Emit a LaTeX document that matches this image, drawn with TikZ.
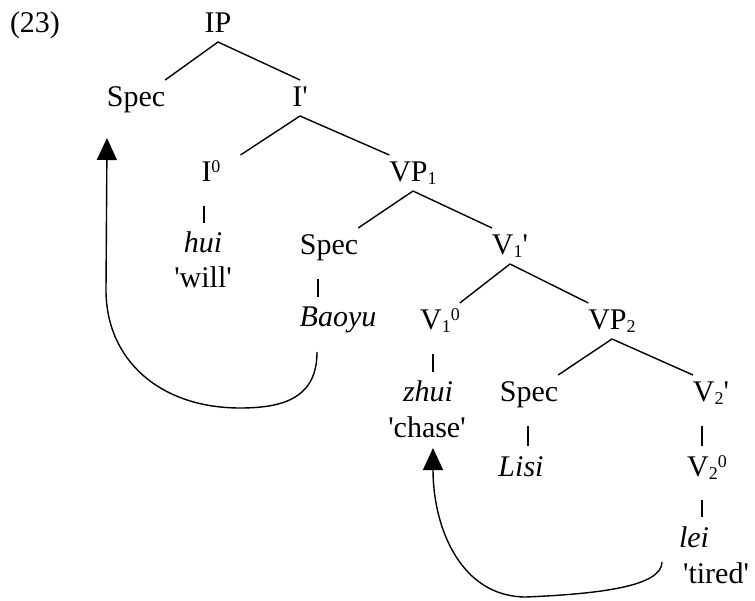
\documentclass[tikz,border=0pt]{standalone}
\usepackage{fontspec}
\setmainfont{Liberation Serif}
\usetikzlibrary{arrows.meta}
\newcommand{\sq}{\textquotesingle}
\newcommand{\dn}[1]{\raisebox{-3pt}{\fontsize{18}{20}\selectfont #1}}
\newcommand{\up}[1]{\raisebox{9pt}{\fontsize{18}{20}\selectfont #1}}

\tikzset{
  lbl/.style={anchor=base, inner sep=0pt, outer xsep=0pt, outer ysep=9pt,
    text height=18pt, text depth=0pt, font=\fontsize{30}{34}\selectfont},
  branch/.style={line width=1.4pt},
  tick/.style={line width=1.4pt, shorten <=15pt, shorten >=3pt},
  move/.style={line width=1.4pt, -{Triangle[length=22pt,width=20pt]}}
}

\begin{document}
\begin{tikzpicture}[x=1pt, y=-1pt]
\useasboundingbox (0,0) rectangle (755,601);

% labels
\node[lbl] (ex) at (35,33) {(23)};
\node[lbl] (IP) at (218,33) {IP};
\node[lbl] (spec1) at (136,107) {Spec};
\node[lbl] (ibar) at (300,107) {I\sq};
\node[lbl] (izero) at (211,182) {I\up{0}};
\node[lbl] (vp1) at (413,182) {VP\dn{1}};
\node[lbl] (hui) at (203,253) {\textit{hui}};
\node[lbl] (will) at (203,288) {\sq will\sq};
\node[lbl] (spec2) at (329,255) {Spec};
\node[lbl] (v1bar) at (510,255) {V\dn{1}\sq};
\node[lbl] (baoyu) at (338,327) {\textit{Baoyu}};
\node[lbl] (v1zero) at (440,330) {V\dn{1}\up{0}};
\node[lbl] (vp2) at (612,330) {VP\dn{2}};
\node[lbl] (zhui) at (428,402) {\textit{zhui}};
\node[lbl] (chase) at (427,437) {\sq chase\sq};
\node[lbl] (spec3) at (529,402) {Spec};
\node[lbl] (v2bar) at (711,402) {V\dn{2}\sq};
\node[lbl] (lisi) at (521,476) {\textit{Lisi}};
\node[lbl] (v2zero) at (707,476) {V\dn{2}\up{0}};
\node[lbl] (lei) at (694,547) {\textit{lei}};
\node[lbl] (tired) at (716,583) {\sq tired\sq};

% branches
\draw[branch] (IP.south) -- (spec1.north east);
\draw[branch] (IP.south) -- (ibar.north);
\draw[branch] (ibar.south) -- ([xshift=20pt]izero.north east);
\draw[branch] (ibar.south) -- (vp1.north west);
\draw[branch] (vp1.south) -- (spec2.north east);
\draw[branch] (vp1.south) -- (v1bar.north west);
\draw[branch] (v1bar.south) -- (v1zero.north east);
\draw[branch] (v1bar.south) -- (vp2.north west);
\draw[branch] (vp2.south) -- (spec3.north east);
\draw[branch] (vp2.south) -- (v2bar.north west);

% unary lines
\draw[tick] ([xshift=-7pt]izero.south) -- ([xshift=-7pt]izero.south |- hui.north);
\draw[tick] ([xshift=-11pt]spec2.south) -- ([xshift=-11pt]spec2.south |- baoyu.north);
\draw[tick] ([xshift=-7pt]v1zero.south) -- ([xshift=-7pt]v1zero.south |- zhui.north);
\draw[tick] ([xshift=-1pt]spec3.south) -- ([xshift=-1pt]spec3.south |- lisi.north);
\draw[tick] ([xshift=-9pt]v2bar.south) -- ([xshift=-9pt]v2bar.south |- v2zero.north);
\draw[tick] ([xshift=-5pt]v2zero.south) -- ([xshift=-5pt]v2zero.south |- lei.north);

% movement
\draw[move] ([xshift=-21pt,yshift=-16pt]baoyu.south)
  .. controls +(0,45) and +(45,0) .. ++(-77,56)
  .. controls +(-80,0) and +(0,70) .. ++(-134,-118)
  -- ([xshift=-29pt,yshift=-22pt]spec1.south);
\draw[move] ([xshift=-17pt,yshift=-6pt]lei.south west)
  .. controls +(0,25) and +(70,-3) .. ++(-136,35)
  .. controls +(-65,0) and +(0,80) .. ([xshift=6pt,yshift=-2pt]chase.south);
\end{tikzpicture}
\end{document}
